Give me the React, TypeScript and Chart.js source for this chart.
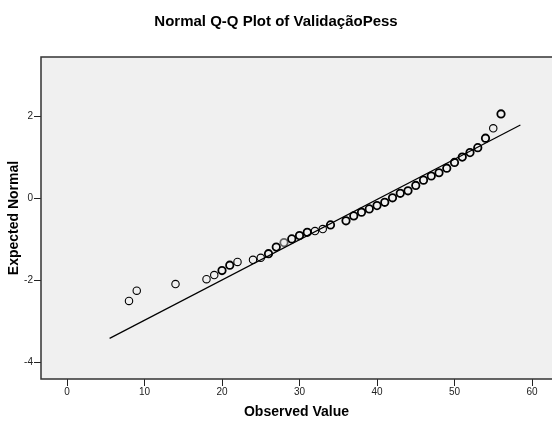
import React, { useEffect, useRef } from "react";
import { Chart, registerables } from "chart.js";

Chart.register(...registerables);

// Observed values (x) and their expected normal quantiles (y)
const observed = [8, 9, 14, 18, 19, 20, 21, 22, 24, 25, 26, 27, 28, 29, 30, 31, 32, 33, 34, 36, 37, 38, 39, 40, 41, 42, 43, 44, 45, 46, 47, 48, 49, 50, 51, 52, 53, 54, 55, 56];
const expected = [-2.5, -2.25, -2.09, -1.97, -1.87, -1.76, -1.63, -1.55, -1.5, -1.45, -1.35, -1.19, -1.08, -0.99, -0.91, -0.83, -0.8, -0.75, -0.65, -0.55, -0.43, -0.34, -0.26, -0.18, -0.1, 0.01, 0.12, 0.18, 0.31, 0.44, 0.54, 0.62, 0.73, 0.87, 1.0, 1.11, 1.23, 1.46, 1.7, 2.05];
// Points that appear drawn thin (single case); others overplotted
const thinPoints = [8, 9, 14, 18, 19, 22, 24, 25, 32, 33, 55];
const grayPoints = [28];

// Reference line endpoints
const lineX = [5.5, 58.5];
const lineY = [-3.41, 1.78];

const xTicks = [0, 10, 20, 30, 40, 50, 60];
const yTicks = [-4, -2, 0, 2];

const chartTitle = "Normal Q-Q Plot of ValidaçãoPess";
const xTitle = "Observed Value";
const yTitle = "Expected Normal";

const FONT = '"Liberation Sans", Arial, sans-serif';

const framePlugin = {
  id: "frame",
  beforeDatasetsDraw(chart: any) {
    const { ctx, chartArea } = chart;
    ctx.save();
    ctx.fillStyle = "#F0F0F0";
    ctx.fillRect(chartArea.left, chartArea.top, chartArea.right - chartArea.left, chartArea.bottom - chartArea.top);
    ctx.restore();
  },
  afterDatasetsDraw(chart: any) {
    const { ctx, chartArea } = chart;
    ctx.save();
    ctx.strokeStyle = "#333333";
    ctx.lineWidth = 1.5;
    ctx.beginPath();
    ctx.moveTo(chartArea.right + 2, chartArea.top);
    ctx.lineTo(chartArea.left, chartArea.top);
    ctx.lineTo(chartArea.left, chartArea.bottom);
    ctx.lineTo(chartArea.right + 2, chartArea.bottom);
    ctx.stroke();
    ctx.restore();
  },
};

export default function App() {
  const canvasRef = useRef<HTMLCanvasElement | null>(null);

  useEffect(() => {
    if (!canvasRef.current) return;
    const points = observed.map((x, i) => ({ x, y: expected[i] }));
    const linePts = lineX.map((x, i) => ({ x, y: lineY[i] }));
    const widths = observed.map((x) => (thinPoints.includes(x) ? 1.1 : 1.8));
    const colors = observed.map((x) => (grayPoints.includes(x) ? "#666666" : "#000000"));

    const chart = new Chart(canvasRef.current, {
      type: "scatter",
      data: {
        datasets: [
          {
            type: "line",
            data: linePts,
            borderColor: "#000000",
            borderWidth: 1.2,
            pointRadius: 0,
            fill: false,
            showLine: true,
            tension: 0,
          } as any,
          {
            type: "scatter",
            data: points,
            pointRadius: 3.7,
            pointStyle: "circle",
            backgroundColor: "rgba(0,0,0,0)",
            borderColor: colors,
            borderWidth: widths,
          } as any,
        ],
      },
      options: {
        responsive: false,
        animation: false,
        layout: { autoPadding: false, padding: 0 },
        plugins: {
          legend: { display: false },
          tooltip: { enabled: false },
          title: {
            display: true,
            text: chartTitle,
            color: "#000000",
            font: { family: FONT, size: 15, weight: "bold", lineHeight: 1.2 },
            padding: { top: 13, bottom: 26 },
          },
        },
        scales: {
          x: {
            type: "linear",
            min: -3.355,
            max: 62.58,
            afterFit(scale: any) {
              scale.height = 46;
              scale.paddingLeft = 0;
              scale.paddingRight = 0;
            },
            afterBuildTicks(scale: any) {
              scale.ticks = xTicks.map((v) => ({ value: v }));
            },
            ticks: {
              color: "#222222",
              font: { family: FONT, size: 10 },
              padding: 0,
              maxRotation: 0,
              autoSkip: false,
            },
            grid: {
              display: true,
              drawOnChartArea: false,
              drawTicks: true,
              tickLength: 7,
              color: "#222222",
            },
            border: { display: false },
            title: {
              display: true,
              text: xTitle,
              color: "#000000",
              font: { family: FONT, size: 14, weight: "bold", lineHeight: 1.2 },
              padding: { top: 0, bottom: 4 },
            },
          },
          y: {
            type: "linear",
            min: -4.399,
            max: 3.436,
            afterFit(scale: any) {
              scale.width = 41;
              scale.paddingTop = 0;
              scale.paddingBottom = 0;
            },
            afterBuildTicks(scale: any) {
              scale.ticks = yTicks.map((v) => ({ value: v }));
            },
            ticks: {
              color: "#222222",
              font: { family: FONT, size: 10 },
              padding: 1,
              autoSkip: false,
            },
            grid: {
              display: true,
              drawOnChartArea: false,
              drawTicks: true,
              tickLength: 7,
              color: "#222222",
            },
            border: { display: false },
            title: {
              display: true,
              text: yTitle,
              color: "#000000",
              font: { family: FONT, size: 14, weight: "bold", lineHeight: 1.2 },
              padding: { top: 5.6, bottom: 0 },
            },
          },
        },
      } as any,
      plugins: [framePlugin],
    });

    return () => {
      chart.destroy();
    };
  }, []);

  return (
    <div style={{ position: "fixed", left: 0, top: 0, width: 552, height: 425, background: "#ffffff" }}>
      <canvas ref={canvasRef} width={552} height={425} style={{ display: "block", width: 552, height: 425 }} />
    </div>
  );
}
